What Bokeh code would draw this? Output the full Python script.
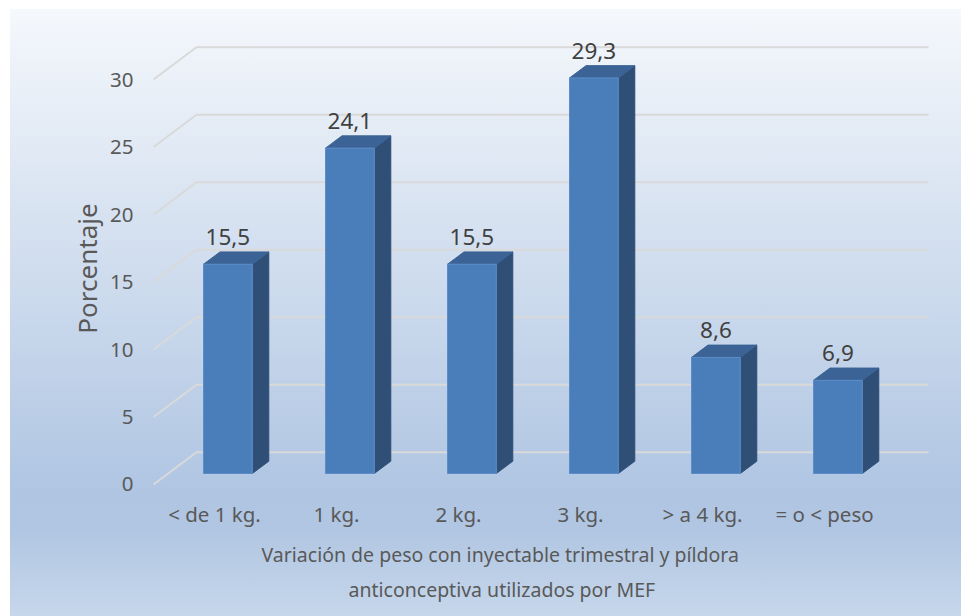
from bokeh.plotting import figure
from bokeh.models import FixedTicker, Title, ColumnDataSource
from bokeh.core.properties import value
from bokeh.embed import file_html
from bokeh.resources import INLINE

# ---- data -------------------------------------------------------------
categories = ["< de 1 kg.", "1 kg.", "2 kg.", "3 kg.", "> a 4 kg.", "= o < peso"]
porcentajes = [15.5, 24.1, 15.5, 29.3, 8.6, 6.9]
y_ticks = [0, 5, 10, 15, 20, 25, 30]

y_title = "Porcentaje"
x_title_lines = ["Variación de peso con inyectable trimestral y píldora",
                 "anticonceptiva utilizados por MEF"]

FONT = "Noto Sans"
TXT = "#595959"

# ---- pseudo-3D geometry (data units) ----------------------------------
# wall depth: offset between the front and back planes
WALL_DX, WALL_DY = 0.3525, 2.393
# column front face: shift into the scene, width, and base level
BAR_SHIFT, BAR_W, BAR_BASE = 0.11, 0.40, 0.815
# column depth (side and top faces)
COL_DX, COL_DY = 0.135, 0.911

n = len(categories)
idx = list(range(n))

p = figure(width=961, height=616, output_backend="svg", toolbar_location=None,
           x_range=(-0.5410, 5.9098), y_range=(-0.8889, 32.889),
           min_border_left=148, min_border_right=26,
           min_border_top=40, min_border_bottom=120)
p.background_fill_alpha = 0
p.border_fill_alpha = 0
p.outline_line_color = None
p.grid.visible = False
p.styles = {
    "background": "linear-gradient(to bottom, #f5f8fc 0%, #afc5e2 80%, "
                  "#b1c6e2 86%, #c6d7eb 100%) 10px 9px / 951px 607px no-repeat, #ffffff"
}

# ---- grid: floor-to-back-wall diagonals plus back-wall lines -----------
x0, x1 = -0.5, n - 0.5
grid_xs = [[x0, x0 + WALL_DX, x1 + WALL_DX] for _ in y_ticks]
grid_ys = [[v, v + WALL_DY, v + WALL_DY] for v in y_ticks]
p.multi_line(grid_xs, grid_ys, line_color="#d9d9d9", line_width=2)

# ---- columns ----------------------------------------------------------
left = [i + BAR_SHIFT - BAR_W / 2 for i in idx]
right = [i + BAR_SHIFT + BAR_W / 2 for i in idx]
bottom = [BAR_BASE] * n
top = [BAR_BASE + v for v in porcentajes]

side_xs = [[r, r + COL_DX, r + COL_DX, r] for r in right]
side_ys = [[b, b + COL_DY, t + COL_DY, t] for b, t in zip(bottom, top)]
top_xs = [[l, l + COL_DX, r + COL_DX, r] for l, r in zip(left, right)]
top_ys = [[t, t + COL_DY, t + COL_DY, t] for t in top]

p.patches(side_xs, side_ys, fill_color="#2f4f77", line_color="#2f4f77", line_width=1)
p.patches(top_xs, top_ys, fill_color="#3b6395", line_color="#3b6395", line_width=1)
p.quad(left=left, right=right, bottom=bottom, top=top,
       fill_color="#4a7ebb", line_color="#5d8dc8", line_width=1)

# ---- value labels -----------------------------------------------------
lab = ColumnDataSource(dict(
    x=[i + BAR_SHIFT for i in idx],
    y=[t + COL_DY + 1.1 for t in top],
    txt=[f"{v:.1f}".replace(".", ",") for v in porcentajes],
))
p.text(x="x", y="y", text="txt", source=lab, text_align="center",
       text_baseline="alphabetic", text_font=value(FONT),
       text_font_size="22.5px", text_color="#404040")

# ---- axes -------------------------------------------------------------
for ax in (p.xaxis[0], p.yaxis[0]):
    ax.axis_line_color = None
    ax.major_tick_line_color = None
    ax.minor_tick_line_color = None
    ax.major_tick_out = 0
    ax.major_tick_in = 0
    ax.minor_tick_out = 0
    ax.minor_tick_in = 0
    ax.major_label_text_font = FONT
    ax.major_label_text_color = TXT
    ax.major_label_text_font_size = "20.5px"

p.yaxis.ticker = FixedTicker(ticks=y_ticks)
p.yaxis.major_label_standoff = 15
p.yaxis.axis_label = y_title
p.yaxis.axis_label_text_font = FONT
p.yaxis.axis_label_text_font_style = "normal"
p.yaxis.axis_label_text_font_size = "26px"
p.yaxis.axis_label_text_color = TXT
p.yaxis.axis_label_standoff = 2

p.xaxis.ticker = FixedTicker(ticks=idx)
p.xaxis.major_label_overrides = {i: c for i, c in zip(idx, categories)}
p.xaxis.major_label_standoff = 3

# two-line x title; left-aligned titles, each shifted so the line is
# centred at about x = 500 px on the page
title_offsets = [113, 200]
for k, (line, off) in enumerate(zip(x_title_lines, title_offsets)):
    p.add_layout(Title(text=line, align="left", offset=off,
                       text_font=FONT, text_font_size="19.5px",
                       text_font_style="normal", text_color=TXT,
                       standoff=-3 if k else 16), "below")

open("out.html", "w").write(file_html(p, INLINE))
